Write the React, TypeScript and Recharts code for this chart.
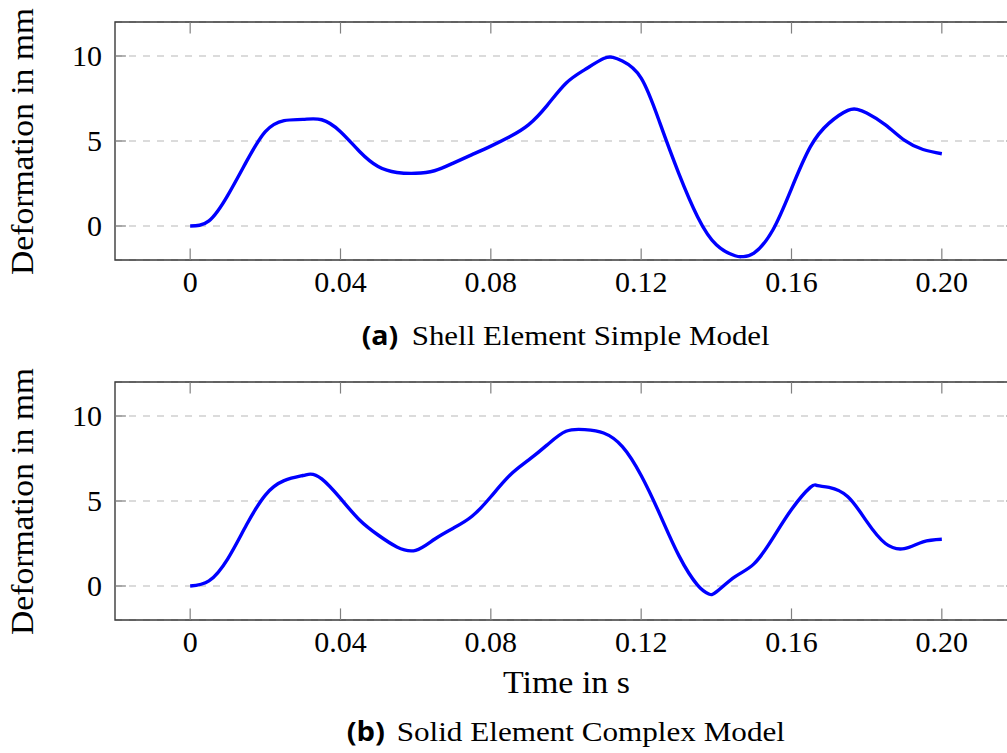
import React from "react";
import { LineChart, Line, XAxis, YAxis, CartesianGrid, ReferenceArea, ReferenceLine } from "recharts";

const xTicks = [0, 0.04, 0.08, 0.12, 0.16, 0.2];
const yTicks = [0, 5, 10];
const xDomain: [number, number] = [-0.02, 0.22];
const yDomain: [number, number] = [-2, 12];

const shellTime = [0, 0.005, 0.01, 0.015, 0.02, 0.025, 0.03, 0.035, 0.04, 0.045, 0.05, 0.055, 0.06, 0.065, 0.07, 0.075, 0.08, 0.085, 0.09, 0.095, 0.1, 0.105, 0.11, 0.1125, 0.115, 0.12, 0.125, 0.13, 0.135, 0.14, 0.145, 0.147, 0.15, 0.155, 0.16, 0.165, 0.17, 0.175, 0.1775, 0.18, 0.185, 0.19, 0.195, 0.2];
const shellDeformation = [0, 0.3, 1.8, 3.8, 5.55, 6.2, 6.27, 6.25, 5.55, 4.4, 3.5, 3.15, 3.1, 3.25, 3.7, 4.2, 4.7, 5.25, 5.95, 7.1, 8.4, 9.2, 9.85, 9.92, 9.7, 8.7, 6.05, 3.1, 0.55, -1.1, -1.75, -1.8, -1.6, -0.25, 2.2, 4.65, 6.05, 6.8, 6.86, 6.65, 5.95, 5.05, 4.5, 4.25];

const solidTime = [0, 0.005, 0.01, 0.015, 0.02, 0.025, 0.03, 0.032, 0.035, 0.04, 0.045, 0.05, 0.055, 0.06, 0.065, 0.07, 0.075, 0.08, 0.085, 0.09, 0.095, 0.1, 0.105, 0.11, 0.115, 0.12, 0.125, 0.13, 0.135, 0.138, 0.14, 0.145, 0.15, 0.155, 0.16, 0.165, 0.167, 0.17, 0.175, 0.18, 0.185, 0.19, 0.195, 0.2];
const solidDeformation = [0, 0.3, 1.6, 3.6, 5.35, 6.2, 6.5, 6.58, 6.3, 5.15, 3.9, 3.0, 2.3, 2.1, 2.75, 3.4, 4.1, 5.25, 6.5, 7.4, 8.3, 9.1, 9.2, 9.0, 8.2, 6.5, 4.2, 1.8, 0.05, -0.47, -0.35, 0.55, 1.3, 2.8, 4.5, 5.8, 5.9, 5.8, 5.25, 3.8, 2.5, 2.2, 2.6, 2.75];

const SERIF = "'Liberation Serif', 'Times New Roman', serif";
const SANS = "'Open Sans', 'Noto Sans', sans-serif";

const fmtX = (v: number) => (v === 0 ? "0" : v.toFixed(2));

const XTick = (props: any) => {
  const { x, y, payload } = props;
  return (
    <text x={x} y={y + 31.5} textAnchor="middle" fontFamily={SERIF} fontSize={30} fill="#000">
      {fmtX(payload.value)}
    </text>
  );
};

const YTick = (props: any) => {
  const { x, y, payload } = props;
  return (
    <text x={x - 13} y={y + 10} textAnchor="end" fontFamily={SERIF} fontSize={30} fill="#000">
      {String(payload.value)}
    </text>
  );
};

const TICK_X_LEN = 0.0029;
const TICK_Y_LEN = 0.68;

function Panel({ times, values }: { times: number[]; values: number[] }) {
  const data = times.map((t, i) => ({ t, v: values[i] }));
  return (
    <LineChart width={1040} height={300} data={data} margin={{ top: 22, right: 23, left: 55, bottom: 0 }}>
      <CartesianGrid horizontal vertical={false} stroke="#b8b8b8" strokeWidth={1.2} strokeDasharray="7 7" />
      <XAxis
        dataKey="t"
        type="number"
        domain={xDomain}
        ticks={xTicks}
        allowDataOverflow
        axisLine={false}
        tickLine={false}
        tickSize={0}
        tickMargin={0}
        height={40}
        tick={<XTick />}
        interval={0}
      />
      <YAxis
        type="number"
        domain={yDomain}
        ticks={yTicks}
        allowDataOverflow
        axisLine={false}
        tickLine={false}
        tickSize={0}
        tickMargin={0}
        width={60}
        tick={<YTick />}
        interval={0}
      />
      {xTicks.map((t) => (
        <ReferenceLine key={"xb" + t} segment={[{ x: t, y: yDomain[0] }, { x: t, y: yDomain[0] + TICK_Y_LEN }]} stroke="#808080" strokeWidth={1.2} />
      ))}
      {xTicks.map((t) => (
        <ReferenceLine key={"xt" + t} segment={[{ x: t, y: yDomain[1] - TICK_Y_LEN }, { x: t, y: yDomain[1] }]} stroke="#808080" strokeWidth={1.2} />
      ))}
      {yTicks.map((v) => (
        <ReferenceLine key={"yl" + v} segment={[{ x: xDomain[0], y: v }, { x: xDomain[0] + TICK_X_LEN, y: v }]} stroke="#808080" strokeWidth={1.2} />
      ))}
      {yTicks.map((v) => (
        <ReferenceLine key={"yr" + v} segment={[{ x: xDomain[1] - TICK_X_LEN, y: v }, { x: xDomain[1], y: v }]} stroke="#808080" strokeWidth={1.2} />
      ))}
      <ReferenceArea x1={xDomain[0]} x2={xDomain[1]} y1={yDomain[0]} y2={yDomain[1]} fill="none" fillOpacity={0} stroke="#3a3a3a" strokeWidth={1.4} />
      <Line type="natural" dataKey="v" stroke="#0000ff" strokeWidth={3.4} dot={false} isAnimationActive={false} />
    </LineChart>
  );
}

export default function App() {
  return (
    <div style={{ position: "fixed", left: 0, top: 0, width: 1007, height: 753, overflow: "hidden", background: "#fff" }}>
      <div style={{ position: "absolute", left: 0, top: 0 }}>
        <Panel times={shellTime} values={shellDeformation} />
      </div>
      <div style={{ position: "absolute", left: 0, top: 360 }}>
        <Panel times={solidTime} values={solidDeformation} />
      </div>
      <svg width={1007} height={753} style={{ position: "absolute", left: 0, top: 0, pointerEvents: "none" }}>
        <text transform="translate(33.3, 141.5) rotate(-90)" textAnchor="middle" fontFamily={SERIF} fontSize={31} textLength={267} lengthAdjust="spacingAndGlyphs" fill="#000">
          Deformation in mm
        </text>
        <text transform="translate(33.3, 501.5) rotate(-90)" textAnchor="middle" fontFamily={SERIF} fontSize={31} textLength={267} lengthAdjust="spacingAndGlyphs" fill="#000">
          Deformation in mm
        </text>
        <text x={361.7} y={344.5} fontFamily={SANS} fontWeight={700} fontSize={26} textLength={36.6} lengthAdjust="spacingAndGlyphs" fill="#000">
          (a)
        </text>
        <text x={411.7} y={344.5} fontFamily={SERIF} fontSize={27} textLength={358} lengthAdjust="spacingAndGlyphs" fill="#000">
          Shell Element Simple Model
        </text>
        <text x={503} y={693} fontFamily={SERIF} fontSize={31} textLength={127} lengthAdjust="spacingAndGlyphs" fill="#000">
          Time in s
        </text>
        <text x={346.7} y={740.5} fontFamily={SANS} fontWeight={700} fontSize={26} textLength={38.3} lengthAdjust="spacingAndGlyphs" fill="#000">
          (b)
        </text>
        <text x={396.7} y={740.5} fontFamily={SERIF} fontSize={27} textLength={388.3} lengthAdjust="spacingAndGlyphs" fill="#000">
          Solid Element Complex Model
        </text>
      </svg>
    </div>
  );
}
